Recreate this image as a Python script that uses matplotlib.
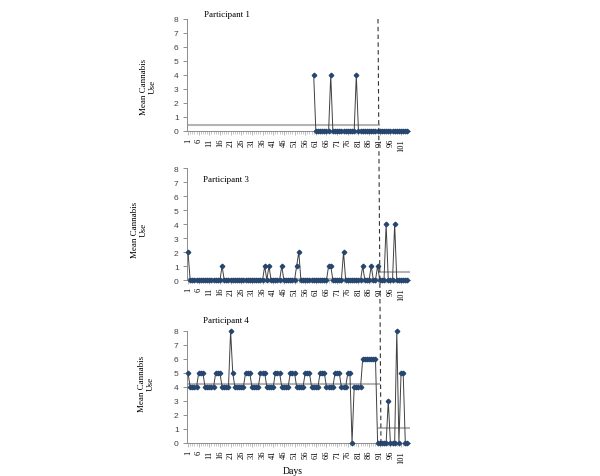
import matplotlib
matplotlib.use('Agg')
import matplotlib.pyplot as plt
from matplotlib.lines import Line2D
import numpy as np

# ---- data ----
days = list(range(1, 105))

# participant 1 : no record before day 60
p1 = [None]*59 + [4, 0, 0, 0, 0, 0, 0, 0, 4,
                  0, 0, 0, 0, 0, 0, 0, 0, 0, 0, 0, 4] + [0]*24

p3 = [2] + [0]*15 + [1] + [0]*19 + [1, 0, 1] + [0]*5 + [1] + [0]*6 + [1, 2] + [0]*13 \
     + [1, 1] + [0]*5 + [2] + [0]*8 + [1, 0, 0, 0, 1, 0, 0, 1] \
     + [0, 0, 0, 4, 0, 0, 0, 4] + [0]*6

p4 = [5, 4, 4, 4, 4, 5, 5, 5, 4, 4, 4, 4, 4, 5, 5, 5, 4, 4, 4, 4, 8, 5,
      4, 4, 4, 4, 4, 5, 5, 5, 4, 4, 4, 4, 5, 5, 5, 4, 4, 4, 4, 5, 5, 5,
      4, 4, 4, 4, 5, 5, 5, 4, 4, 4, 4, 5, 5, 5, 4, 4, 4, 4, 5, 5, 5,
      4, 4, 4, 4, 5, 5, 5, 4, 4, 4, 5, 5, 0, 4, 4, 4, 4,
      6, 6, 6, 6, 6, 6, 6, 0,
      0, 0, 0, 0, 3, 0, 0, 0, 8, 0, 5, 5, 0, 0]

series = [p1, p3, p4]
titles = ["Participant 1", "Participant 3", "Participant 4"]
base_mean = [0.4, 0.08, 4.22]
treat_mean = [0.0, 0.55, 1.07]
phase_change = 90.5
xticks = list(range(1, 102, 5))

W, H = 600, 477
fig = plt.figure(figsize=(6, 4.77), dpi=100)

# axes boxes in pixels: (left, top of y=8, bottom of y=0)
boxes = [(187, 20, 132), (187, 169, 281), (187, 332, 444)]
title_pos = [(204, 15), (203, 180), (203, 321)]
ylab_pos = [(148, 87), (139, 230), (146, 384)]

serif = 'Liberation Serif'
navy = '#27466f'

for k in range(3):
    l, t, b = boxes[k]
    ax = fig.add_axes([l/W, 1-b/H, 223/W, (b-t)/H])
    vals = np.array([np.nan if v is None else v for v in series[k]], dtype=float)
    ax.plot([0.53, phase_change], [base_mean[k]]*2, color='#b4b4b4', lw=1.5, zorder=1)
    ax.plot([phase_change, 104.5], [treat_mean[k]]*2, color='#b4b4b4', lw=1.5, zorder=1)
    ax.plot(days, vals, color='#404040', lw=0.7, marker='D', ms=2.3,
            mfc=navy, mec=navy, clip_on=False, zorder=3)
    ax.set_xlim(0.53, 105.2)
    ax.set_ylim(0, 8)
    ax.set_yticks(range(0, 9))
    ax.set_xticks(xticks)
    ax.set_xticks(days, minor=True)
    ax.set_xticklabels([str(x) for x in xticks], rotation=90, fontsize=6, family=serif)
    for lab in ax.get_yticklabels():
        lab.set_fontsize(6)
        lab.set_family('Liberation Sans')
        lab.set_color('#404040')
    ax.tick_params(axis='y', length=3, width=0.6, color='#808080', pad=3)
    ax.tick_params(axis='x', which='major', length=3, width=0.5, color='#a0a0a0', pad=2)
    ax.tick_params(axis='x', which='minor', length=2, width=0.4, color='#a0a0a0')
    for s in ['top', 'right']:
        ax.spines[s].set_visible(False)
    for s in ['left', 'bottom']:
        ax.spines[s].set_color('#8c8c8c')
        ax.spines[s].set_linewidth(0.7)
    ax.patch.set_alpha(0)

    tx, ty = title_pos[k]
    fig.text(tx/W, 1-ty/H, titles[k], fontsize=6.5, family=serif, va='center', ha='left')
    yx, yy = ylab_pos[k]
    fig.text(yx/W, 1-yy/H, "Mean Cannabis\nUse", fontsize=6.5, family=serif,
             rotation=90, va='center', ha='center', linespacing=1.1)

fig.text(293/W, 1-472/H, "Days", fontsize=7, family=serif, ha='center', va='center')

# phase change line through all three panels
fig.add_artist(Line2D([378/W, 381/W], [1-20/H, 1-447/H], color='#333333',
                      lw=0.8, ls=(0, (4, 3))))

fig.savefig('out.png', dpi=100)
